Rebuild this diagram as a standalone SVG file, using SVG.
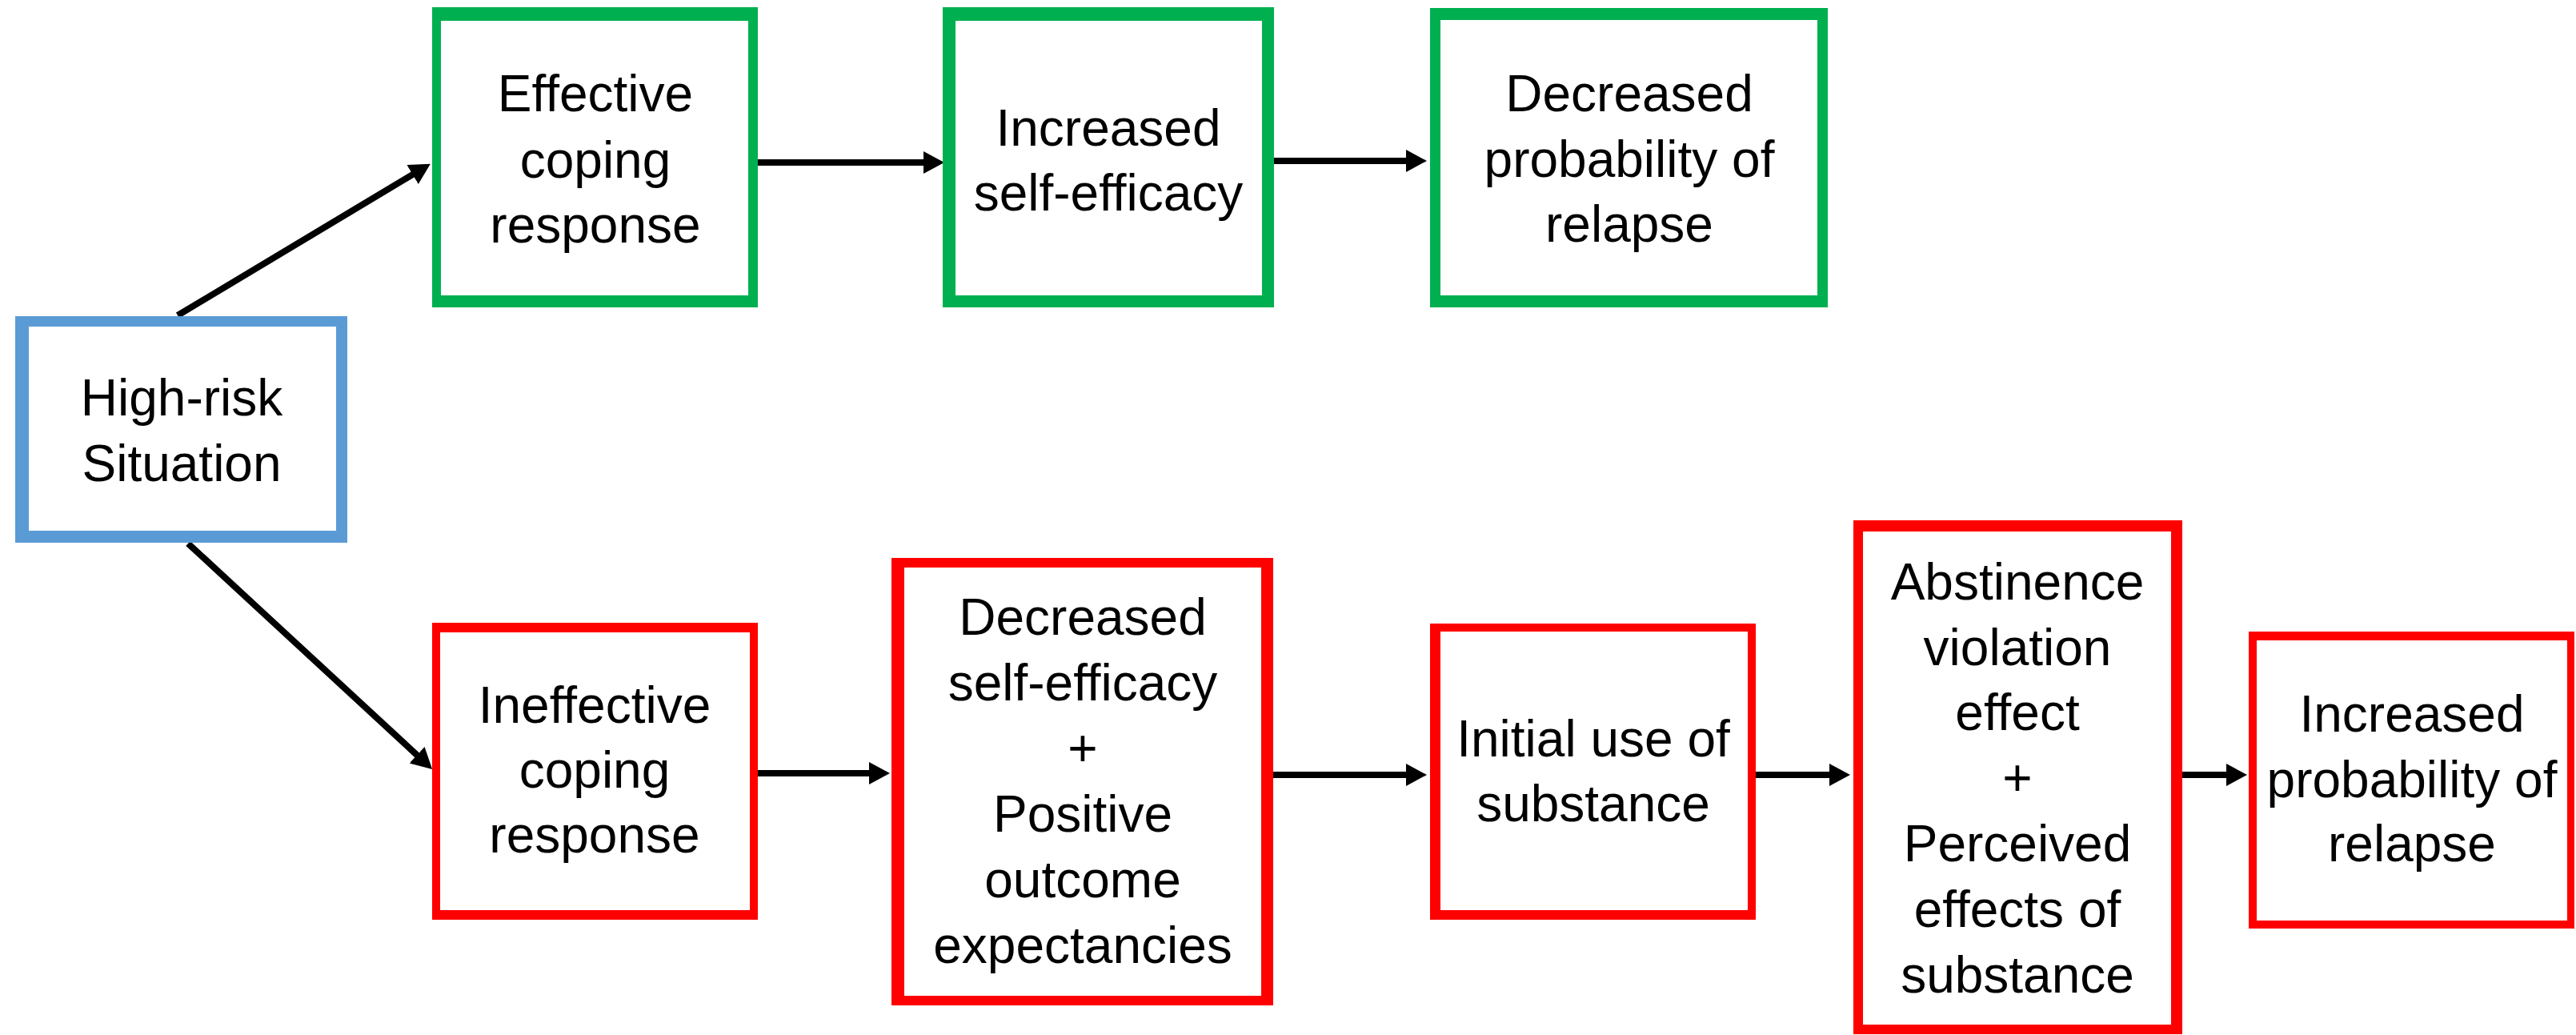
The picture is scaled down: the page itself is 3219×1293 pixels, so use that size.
<svg xmlns="http://www.w3.org/2000/svg" width="3219" height="1293" viewBox="0 0 3219 1293">
<style>
.b{fill:#5B9BD5}
.g{fill:#00B050}
.r{fill:#FF0000}
.in{fill:#FFFFFF}
text{font-family:"Liberation Sans",Arial,sans-serif;font-size:64px;fill:#000;text-anchor:middle}
.c{stroke:#000;stroke-width:8;fill:none;marker-end:url(#ah)}
</style>
<defs>
<marker id="ah" markerUnits="userSpaceOnUse" markerWidth="30" markerHeight="30" refX="4" refY="14" orient="auto">
<path d="M0,0 L26,14 L0,28 z" fill="#000"/>
</marker>
</defs>
<rect width="3219" height="1293" fill="#fff"/>
<g id="connectors">
<line class="c" x1="222" y1="394" x2="519" y2="216"/>
<line class="c" x1="235" y1="679" x2="524" y2="946"/>
<line class="c" x1="947" y1="203" x2="1158" y2="203"/>
<line class="c" x1="1592" y1="201" x2="1761" y2="201"/>
<line class="c" x1="947" y1="966" x2="1090" y2="966"/>
<line class="c" x1="1591" y1="968" x2="1761" y2="968"/>
<line class="c" x1="2194" y1="968" x2="2290" y2="968"/>
<line class="c" x1="2727" y1="968" x2="2786" y2="968"/>
</g>
<g id="high-risk">
<rect class="b" x="19" y="395" width="415" height="283"/>
<rect class="in" x="36" y="408" width="384" height="255"/>
<text x="227" y="519">High-risk</text>
<text x="227" y="601">Situation</text>
</g>
<g id="effective-coping">
<rect class="g" x="540" y="9" width="407" height="375"/>
<rect class="in" x="551" y="26" width="384" height="343"/>
<text x="744" y="139">Effective</text>
<text x="744" y="222">coping</text>
<text x="744" y="303">response</text>
</g>
<g id="increased-self-efficacy">
<rect class="g" x="1178" y="9" width="414" height="375"/>
<rect class="in" x="1194" y="26" width="383" height="343"/>
<text x="1385" y="182">Increased</text>
<text x="1385" y="263">self-efficacy</text>
</g>
<g id="decreased-probability">
<rect class="g" x="1787" y="10" width="497" height="374"/>
<rect class="in" x="1800" y="25" width="471" height="344"/>
<text x="2036" y="139">Decreased</text>
<text x="2036" y="221">probability of</text>
<text x="2036" y="302">relapse</text>
</g>
<g id="ineffective-coping">
<rect class="r" x="540" y="778" width="407" height="371"/>
<rect class="in" x="550" y="790" width="387" height="347"/>
<text x="743" y="903">Ineffective</text>
<text x="743" y="984">coping</text>
<text x="743" y="1065">response</text>
</g>
<g id="decreased-self-efficacy">
<rect class="r" x="1114" y="697" width="477" height="559"/>
<rect class="in" x="1130" y="709" width="446" height="535"/>
<text x="1353" y="793">Decreased</text>
<text x="1353" y="875">self-efficacy</text>
<text x="1353" y="957">+</text>
<text x="1353" y="1039">Positive</text>
<text x="1353" y="1121">outcome</text>
<text x="1353" y="1203">expectancies</text>
</g>
<g id="initial-use">
<rect class="r" x="1787" y="779" width="407" height="370"/>
<rect class="in" x="1800" y="789" width="384" height="348"/>
<text x="1991" y="945">Initial use of</text>
<text x="1991" y="1026">substance</text>
</g>
<g id="abstinence-violation">
<rect class="r" x="2316" y="650" width="411" height="642"/>
<rect class="in" x="2328" y="664" width="385" height="616"/>
<text x="2521" y="749">Abstinence</text>
<text x="2521" y="831">violation</text>
<text x="2521" y="912">effect</text>
<text x="2521" y="994">+</text>
<text x="2521" y="1076">Perceived</text>
<text x="2521" y="1158">effects of</text>
<text x="2521" y="1240">substance</text>
</g>
<g id="increased-probability">
<rect class="r" x="2810" y="789" width="407" height="371"/>
<rect class="in" x="2820" y="800" width="388" height="350"/>
<text x="3014" y="914">Increased</text>
<text x="3014" y="996">probability of</text>
<text x="3014" y="1076">relapse</text>
</g>
</svg>
